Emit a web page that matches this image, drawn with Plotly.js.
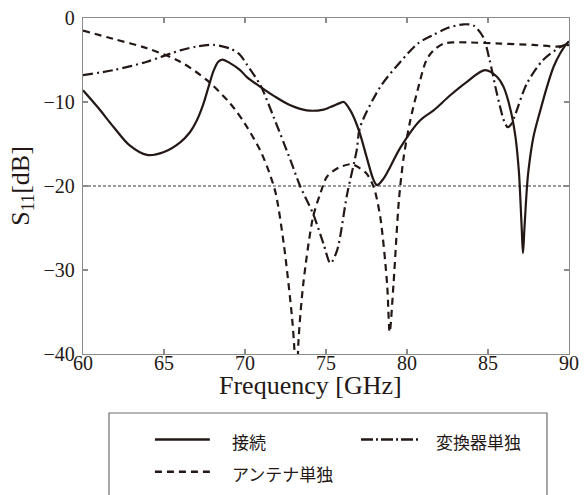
<!DOCTYPE html>
<html>
<head>
<meta charset="utf-8">
<script src="https://cdn.plot.ly/plotly-3.0.1.min.js"></script>
<style>
html,body{margin:0;padding:0;background:#fff;}
#chart{width:586px;height:495px;}
</style>
</head>
<body>
<div id="chart"></div>
<script>
// ---- data ----
const seriesNames = ["接続", "アンテナ単独", "変換器単独"];
const xAxisTitle = "Frequency [GHz]";
const yAxisTitle = "S<sub>11</sub>[dB]";

const freqConnected = [60, 60.9, 61.9, 62.9, 63.95, 65.0, 66.0, 66.6, 67.0, 67.4, 67.75, 68.06, 68.35, 68.6, 69.1, 69.7, 70.1, 70.95, 71.8, 72.8, 73.8, 74.85, 75.27, 75.9, 76.1, 76.5, 76.8, 77.1, 77.5, 77.94, 78.15, 78.56, 78.97, 79.6, 80.8, 81.64, 82.67, 83.7, 84.83, 85.55, 85.96, 86.4, 86.7, 86.9, 86.96, 87.08, 87.16, 87.25, 87.41, 87.5, 87.8, 88.23, 88.64, 89.05, 89.46, 89.88, 90];
const s11Connected  = [-8.6, -10.6, -13.0, -15.2, -16.3, -15.95, -14.8, -13.6, -12.3, -10.4, -8.2, -6.3, -5.2, -4.95, -5.4, -6.2, -7.0, -8.2, -9.3, -10.4, -11.0, -10.9, -10.6, -10.1, -10.0, -11.0, -12.2, -13.8, -16.5, -19.3, -19.9, -19.1, -17.7, -15.4, -12.2, -11.0, -9.2, -7.6, -6.2, -7.0, -8.2, -11.0, -14.2, -18.1, -20.0, -25.0, -28.0, -25.0, -20.0, -18.1, -14.2, -11.0, -8.2, -5.8, -4.2, -3.0, -2.8];

const freqAntenna = [60, 61.9, 63.95, 66.0, 67.65, 69.1, 70.0, 70.95, 71.5, 71.9, 72.4, 72.9, 73.05, 73.18, 73.3, 73.6, 74.2, 74.65, 75.06, 75.8, 76.6, 77.1, 77.5, 77.94, 78.35, 78.77, 78.93, 79.17, 79.5, 79.8, 80.2, 80.6, 81.2, 81.64, 82.26, 82.9, 83.7, 85.76, 87.8, 89.26, 90];
const s11Antenna  = [-1.5, -2.5, -3.6, -5.2, -7.4, -10.2, -12.6, -15.8, -18.4, -20.9, -27.0, -35.6, -39.5, -46.0, -38.5, -31.6, -23.7, -20.9, -18.9, -17.8, -17.4, -17.9, -18.5, -20.1, -23.7, -31.6, -37.4, -31.6, -21.7, -16.5, -12.2, -9.0, -5.0, -3.85, -3.05, -2.9, -2.9, -3.05, -3.2, -3.4, -3.2];

const freqConverter = [60, 61.9, 63.95, 66.0, 67.0, 68.06, 69.1, 69.7, 70.1, 70.95, 71.77, 72.8, 73.4, 74.2, 74.85, 75.27, 75.68, 76.3, 76.9, 77.1, 78.35, 79.6, 80.7, 81.64, 82.5, 83.5, 84.1, 84.7, 85.1, 85.55, 86.0, 86.22, 86.45, 86.7, 87.4, 88.4, 89.46, 90];
const s11Converter  = [-6.8, -6.2, -5.2, -3.85, -3.4, -3.2, -3.65, -4.4, -5.5, -8.0, -11.8, -16.9, -20.0, -23.3, -26.9, -29.2, -27.7, -21.0, -15.7, -13.0, -8.2, -5.2, -3.0, -2.0, -1.2, -0.75, -0.9, -2.26, -5.0, -9.0, -12.3, -13.0, -12.6, -11.4, -7.8, -5.0, -3.45, -3.0];

const xTickVals = [60, 65, 70, 75, 80, 85, 90];
const yTickVals = [0, -10, -20, -30, -40];
const thresholdDb = -20;

// ---- styling ----
const ink = "#231815";
const axisGray = "#8a8a8a";
const serif = "'Liberation Serif', serif";
const jp = "'Noto Sans CJK JP', sans-serif";

const traces = [
  {x: freqConnected, y: s11Connected, name: seriesNames[0], mode: "lines",
   line: {color: ink, width: 2.2, shape: "spline", smoothing: 1}},
  {x: freqAntenna, y: s11Antenna, name: seriesNames[1], mode: "lines",
   line: {color: ink, width: 2.2, dash: "7px,5px", shape: "spline", smoothing: 0.8}},
  {x: freqConverter, y: s11Converter, name: seriesNames[2], mode: "lines",
   line: {color: ink, width: 2.2, dash: "10px,4px,2px,4px", shape: "spline", smoothing: 0.8}}
];

// legend geometry in paper coords
const legendLines = [
  {x0: 0.148, x1: 0.261, y: -0.2545, dash: "solid"},
  {x0: 0.148, x1: 0.261, y: -0.3503, dash: "7px,5px"},
  {x0: 0.572, x1: 0.693, y: -0.2545, dash: "12px,3px,2px,3px"}
];
const legendText = [
  {x: 0.3025, y: -0.2604, i: 0},
  {x: 0.3025, y: -0.3571, i: 1},
  {x: 0.7222, y: -0.2604, i: 2}
];

const shapes = [
  {type: "line", xref: "paper", x0: 0, x1: 1, yref: "y", y0: thresholdDb, y1: thresholdDb,
   line: {color: "#333", width: 1, dash: "3px,2px"}, layer: "below"},
  {type: "rect", xref: "paper", yref: "paper", x0: 0.0535, x1: 0.9547, y0: -0.4256, y1: -0.1756,
   line: {color: "#6e6e6e", width: 1.2}, fillcolor: "rgba(0,0,0,0)"}
];
legendLines.forEach(l => shapes.push({type: "line", xref: "paper", yref: "paper",
  x0: l.x0, x1: l.x1, y0: l.y, y1: l.y, line: {color: ink, width: 2.4, dash: l.dash}}));

const annotations = legendText.map(t => ({
  xref: "paper", yref: "paper", x: t.x, y: t.y, xanchor: "left", yanchor: "middle",
  text: seriesNames[t.i], showarrow: false, font: {family: jp, size: 17, color: ink}
}));
// x-axis title (slightly left of centre in the reference)
annotations.push({
  xref: "paper", yref: "paper", x: 0.469, y: -0.095, xanchor: "center", yanchor: "middle",
  text: xAxisTitle, showarrow: false, font: {family: serif, size: 26, color: ink}
});

const axisCommon = {
  showline: true, linecolor: axisGray, linewidth: 1.3, mirror: "ticks",
  ticks: "inside", ticklen: 5, tickcolor: axisGray, tickwidth: 1.2,
  showgrid: false, zeroline: false,
  tickfont: {family: serif, size: 20, color: ink}
};

const layout = {
  width: 586, height: 495,
  margin: {l: 83, r: 17, t: 18, b: 141, pad: 0},
  paper_bgcolor: "#fff", plot_bgcolor: "#fff",
  font: {family: serif, color: ink},
  showlegend: false,
  xaxis: Object.assign({}, axisCommon, {
    range: [60, 90], tickvals: xTickVals, ticklabelstandoff: -9
  }),
  yaxis: Object.assign({}, axisCommon, {
    range: [-40, 0], tickvals: yTickVals, ticklabelstandoff: 3,
    title: {text: yAxisTitle, font: {family: serif, size: 26, color: ink}, standoff: 6}
  }),
  shapes: shapes,
  annotations: annotations
};

Plotly.newPlot("chart", traces, layout, {staticPlot: true, displayModeBar: false});
</script>
</body>
</html>
